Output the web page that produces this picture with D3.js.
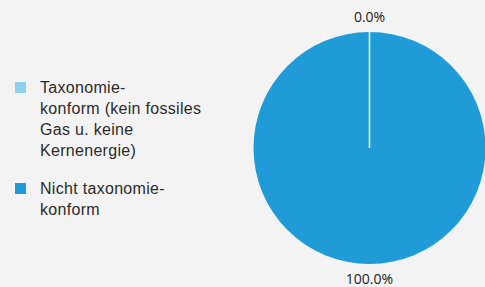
<!DOCTYPE html>
<html>
<head>
<meta charset="utf-8">
<script src="https://cdn.jsdelivr.net/npm/d3@7"></script>
<style>
  body { margin: 0; background: #f3f3f3; }
  #root { width: 485px; height: 287px; }
</style>
</head>
<body>
<div id="root"></div>
<script>
const categories = ["Taxonomiekonform (kein fossiles Gas u. keine Kernenergie)", "Nicht taxonomiekonform"];
const legendLines = [
    ["Taxonomie-", "konform (kein fossiles", "Gas u. keine", "Kernenergie)"],
    ["Nicht taxonomie-", "konform"]
];
const values = [0.0, 100.0];
const colors = ["#8fd0ef", "#1f9bd7"];

const width = 485, height = 287;
const cx = 369.5, cy = 148, r = 116;

const svg = d3.select("#root").append("svg")
    .attr("width", width)
    .attr("height", height);

svg.append("rect").attr("width", width).attr("height", height).attr("fill", "#f3f3f3");

// pie
const pie = d3.pie().sort(null).value(d => d);
const arcs = pie(values);
const arc = d3.arc().innerRadius(0).outerRadius(r);
const labelArc = d3.arc().innerRadius(r + 15).outerRadius(r + 15);

const g = svg.append("g").attr("transform", `translate(${cx},${cy})`);

g.selectAll("path.slice")
    .data(arcs)
    .join("path")
    .attr("class", "slice")
    .attr("d", arc)
    .attr("fill", (d, i) => colors[i]);

// white borders between slices, drawn on top
g.selectAll("path.edge")
    .data(arcs.filter(d => d.value === 0))
    .join("path")
    .attr("class", "edge")
    .attr("d", arc)
    .attr("fill", "none")
    .attr("stroke", "#ffffff")
    .attr("stroke-width", 1.5);

g.selectAll("text.pct")
    .data(arcs)
    .join("text")
    .attr("class", "pct")
    .attr("transform", d => `translate(${labelArc.centroid(d)})`)
    .attr("text-anchor", "middle")
    .attr("dy", "0.36em")
    .style("font-family", "'Open Sans', sans-serif")
    .style("font-size", "14px")
    .attr("fill", "#222")
    .text(d => d3.format(".1f")(d.value) + "%");

// legend
const legendTop = [82, 183];
const legend = svg.append("g").attr("class", "legend");
const items = legend.selectAll("g")
    .data(categories)
    .join("g")
    .attr("transform", (d, i) => `translate(15,${legendTop[i]})`);

items.append("rect")
    .attr("width", 11)
    .attr("height", 11)
    .attr("fill", (d, i) => colors[i]);

items.append("text")
    .attr("x", 25)
    .attr("y", 11)
    .style("font-family", "'Liberation Sans', Arial, sans-serif")
    .style("font-size", "16px")
    .style("letter-spacing", "0.3px")
    .attr("fill", "#2b2b2b")
    .selectAll("tspan")
    .data((d, i) => legendLines[i])
    .join("tspan")
    .attr("x", 25)
    .attr("dy", (d, j) => j === 0 ? 0 : 21)
    .text(d => d);
</script>
</body>
</html>
